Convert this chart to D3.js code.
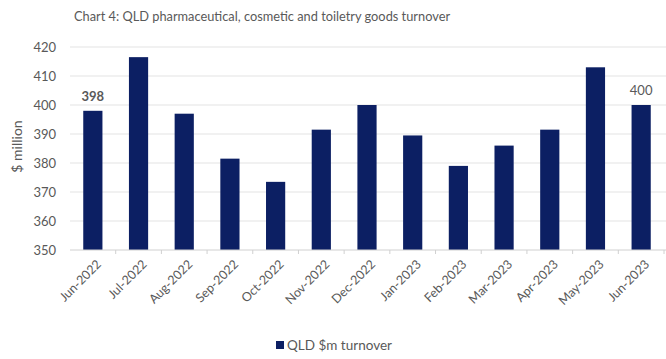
<!DOCTYPE html>
<html>
<head>
    <title>QLD pharmaceutical, cosmetic and toiletry goods turnover</title>
    <script src="https://d3js.org/d3.v7.min.js"></script>
    <style>
        body { margin: 0; background: #fff; }
        text { font-family: Lato, "Open Sans", sans-serif; fill: #595959; }
    </style>
</head>
<body>
    <script>
        // Data
        const months = ["Jun-2022", "Jul-2022", "Aug-2022", "Sep-2022", "Oct-2022", "Nov-2022",
                        "Dec-2022", "Jan-2023", "Feb-2023", "Mar-2023", "Apr-2023", "May-2023", "Jun-2023"];
        const turnover = [398, 416.5, 397, 381.5, 373.5, 391.5, 400, 389.5, 379, 386, 391.5, 413, 400];
        const yTicks = [350, 360, 370, 380, 390, 400, 410, 420];
        const labelled = ["Jun-2022", "Jun-2023"];

        const data = months.map((m, i) => ({month: m, value: turnover[i]}));

        const W = 666, H = 359;
        const margin = {top: 47, right: 0, bottom: 109, left: 70},
            width = W - margin.left - margin.right,
            height = H - margin.top - margin.bottom;

        const root = d3.select("body")
          .append("svg")
            .attr("width", W)
            .attr("height", H);

        // Title
        root.append("text")
          .attr("x", 262)
          .attr("y", 21)
          .attr("text-anchor", "middle")
          .style("font-size", "12.8px")
          .text("Chart 4: QLD pharmaceutical, cosmetic and toiletry goods turnover");

        const svg = root.append("g")
            .attr("transform", `translate(${margin.left},${margin.top})`);

        const x = d3.scaleBand()
          .domain(months)
          .range([0, width - 2])
          .paddingInner(0.58)
          .paddingOuter(0.29);

        const y = d3.scaleLinear()
          .domain([350, 420])
          .range([height, 0]);

        // Gridlines
        svg.append("g")
          .selectAll("line")
          .data(yTicks.slice(1))
          .enter()
          .append("line")
            .attr("x1", 0)
            .attr("x2", width)
            .attr("y1", d => y(d))
            .attr("y2", d => y(d))
            .attr("stroke", "#e3e3e3")
            .attr("stroke-width", 1);

        // Y axis labels
        const yAxis = svg.append("g")
          .call(d3.axisLeft(y).tickValues(yTicks).tickSize(0).tickPadding(14));
        yAxis.select(".domain").remove();
        yAxis.selectAll("text")
          .style("font-size", "13px")
          .style("fill", "#595959");

        // Y axis title
        root.append("text")
          .attr("transform", "rotate(-90)")
          .attr("x", -(margin.top + height / 2 - 2))
          .attr("y", 22)
          .attr("text-anchor", "middle")
          .style("font-size", "14px")
          .text("$ million");

        // Bars
        svg.selectAll("rect.bar")
          .data(data)
          .enter()
          .append("rect")
            .attr("class", "bar")
            .attr("x", d => x(d.month))
            .attr("width", x.bandwidth())
            .attr("y", d => y(d.value))
            .attr("height", d => height - y(d.value))
            .attr("fill", "#0c1f63");

        // X axis
        const step = x.step();
        const xAxis = svg.append("g")
          .attr("transform", `translate(0,${height})`);
        xAxis.append("line")
          .attr("x1", 0).attr("x2", width)
          .attr("stroke", "#d0d0d0");
        xAxis.selectAll("line.tick")
          .data(months)
          .enter()
          .append("line")
            .attr("class", "tick")
            .attr("x1", d => x(d) + x.bandwidth() / 2 + step / 2)
            .attr("x2", d => x(d) + x.bandwidth() / 2 + step / 2)
            .attr("y1", 0).attr("y2", 4)
            .attr("stroke", "#d0d0d0");
        xAxis.selectAll("text")
          .data(months)
          .enter()
          .append("text")
            .attr("transform", d => `translate(${x(d) + x.bandwidth() / 2 + 6},${12}) rotate(-45)`)
            .attr("text-anchor", "end")
            .attr("dy", "0.35em")
            .style("font-size", "12.5px")
            .text(d => d);

        // Data labels
        svg.selectAll("text.lbl")
          .data(data.filter(d => labelled.includes(d.month)))
          .enter()
          .append("text")
            .attr("class", "lbl")
            .attr("x", d => x(d.month) + x.bandwidth() / 2)
            .attr("y", d => y(d.value) - 10)
            .attr("text-anchor", "middle")
            .style("font-size", "13px")
            .style("font-weight", (d, i) => i === 0 ? "bold" : "normal")
            .text(d => d.value);

        // Legend
        const legend = root.append("g")
          .attr("transform", "translate(276,341)");
        legend.append("rect")
          .attr("width", 8).attr("height", 8)
          .attr("fill", "#0c1f63");
        legend.append("text")
          .attr("x", 11)
          .attr("y", 4)
          .attr("dy", "0.35em")
          .style("font-size", "13.5px")
          .text("QLD $m turnover");
    </script>
</body>
</html>
